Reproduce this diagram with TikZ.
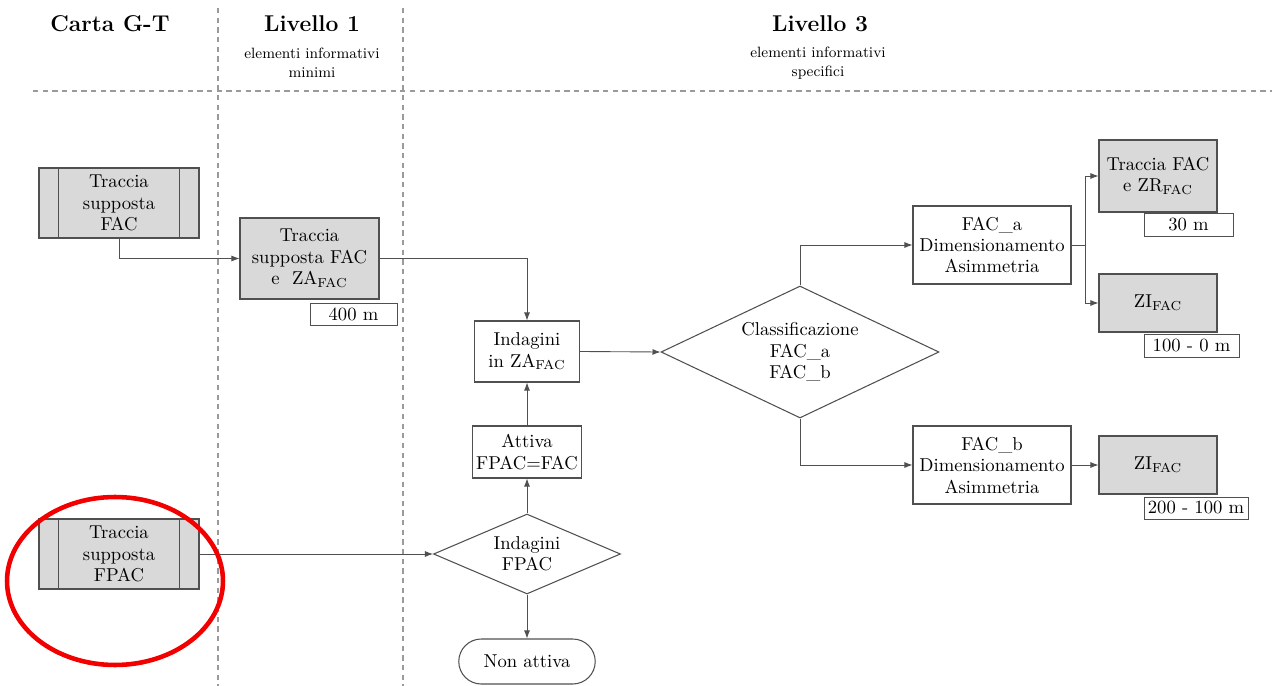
\documentclass[tikz,border=0pt]{standalone}
\usepackage{tikz}
\usetikzlibrary{arrows.meta,positioning,calc,shapes.geometric,shapes.misc}
\usepackage{xcolor}
\definecolor{gtLine}{HTML}{505050}
\definecolor{gtFill}{HTML}{D9D9D9}
\definecolor{gtDash}{HTML}{9A9A9A}
\definecolor{gtRed}{HTML}{F20000}
\newcommand{\gtbody}{\fontsize{10.6}{12.2}\selectfont}
\newcommand{\gthead}{\fontsize{13}{15}\selectfont\bfseries}
\newcommand{\gtsub}{\fontsize{8.5}{11}\selectfont}
\tikzset{
  arr/.style={-{Latex[length=1.6mm,width=1.2mm]}, line width=0.5pt, draw=gtLine},
  lnk/.style={line width=0.5pt, draw=gtLine},
  sep/.style={dash pattern=on 3pt off 2.5pt, draw=gtDash, line width=0.6pt},
  whitebox/.style={rectangle, draw=gtLine, fill=white, line width=0.6pt, align=center, inner sep=1pt, font=\gtbody},
  greybox/.style={whitebox, fill=gtFill},
  tagbox/.style={whitebox, line width=0.5pt},
  choice/.style={diamond, draw=gtLine, fill=white, line width=0.6pt, align=center, inner sep=0pt, font=\gtbody},
  endbox/.style={rounded rectangle, draw=gtLine, fill=white, line width=0.6pt, align=center, inner sep=1pt, font=\gtbody},
  head/.style={font=\gthead},
  subhead/.style={font=\gtsub, align=center}
}

\begin{document}
\begin{tikzpicture}[x=0.02cm,y=-0.02cm]
  \useasboundingbox (0,0) rectangle (1272,686);
  % columns and headings
  \draw[sep] (218,8) -- (218,686);
  \draw[sep] (403,8) -- (403,686);
  \draw[sep] (33,91) -- (1272,91);
  \node[head] (hgt) at (110,24) {Carta G-T};
  \node[head] (hl1) at (312,24) {Livello 1};
  \node[subhead] (sl1) at (312,63) {elementi informativi\\minimi};
  \node[head] (hl3) at (820,24) {Livello 3};
  \node[subhead] (sl3) at (818,63) {elementi informativi\\specifici};
  % distance tags
  \node[tagbox, minimum width=1.74cm, minimum height=0.44cm] (t400) at (353.5,314) {400 m};
  \node[tagbox, minimum width=1.78cm, minimum height=0.46cm] (t30) at (1188.5,225) {30 m};
  \node[tagbox, minimum width=1.9cm, minimum height=0.46cm] (t100) at (1191.5,345.5) {100 - 0 m};
  \node[tagbox, minimum width=2.08cm, minimum height=0.44cm] (t200) at (1196,508) {200 - 100 m};
  % boxes
  \node[greybox, minimum width=3.2cm, minimum height=1.4cm] (tsf) at (119,203) {Traccia\\supposta\\FAC};
  \node[greybox, minimum width=3.2cm, minimum height=1.4cm] (tsfp) at (119,554) {Traccia\\supposta\\FPAC};
  \draw[lnk] ([xshift=0.4cm]tsf.north west) -- ([xshift=0.4cm]tsf.south west);
  \draw[lnk] ([xshift=-0.4cm]tsf.north east) -- ([xshift=-0.4cm]tsf.south east);
  \draw[lnk] ([xshift=0.4cm]tsfp.north west) -- ([xshift=0.4cm]tsfp.south west);
  \draw[lnk] ([xshift=-0.4cm]tsfp.north east) -- ([xshift=-0.4cm]tsfp.south east);
  \node[greybox, minimum width=2.78cm, minimum height=1.62cm] (tsza) at (309.5,258.5) {Traccia\\supposta FAC\\e~~ZA\textsubscript{FAC}};
  \node[whitebox, minimum width=2.1cm, minimum height=1.22cm] (iza) at (527,351.5) {Indagini\\in ZA\textsubscript{FAC}};
  \node[whitebox, minimum width=2.18cm, minimum height=1.04cm] (att) at (527,452) {Attiva\\FPAC=FAC};
  \node[choice, aspect=2.3, minimum width=3.74cm, minimum height=1.6cm] (ifp) at (527,554) {Indagini\\FPAC};
  \node[endbox, minimum width=2.8cm, minimum height=0.9cm] (nat) at (527,661.5) {Non attiva};
  \node[choice, aspect=2.1, minimum width=5.56cm, minimum height=2.64cm] (cls) at (800,352) {Classificazione\\FAC\_a\\FAC\_b};
  \node[whitebox, minimum width=3.16cm, minimum height=1.56cm] (faca) at (992,245) {FAC\_a\\Dimensionamento\\Asimmetria};
  \node[whitebox, minimum width=3.16cm, minimum height=1.56cm] (facb) at (992,465) {FAC\_b\\Dimensionamento\\Asimmetria};
  \node[greybox, minimum width=2.36cm, minimum height=1.44cm] (tzr) at (1158,176) {Traccia FAC\\e ZR\textsubscript{FAC}};
  \node[greybox, minimum width=2.36cm, minimum height=1.16cm] (zia) at (1158,303) {ZI\textsubscript{FAC}};
  \node[greybox, minimum width=2.36cm, minimum height=1.16cm] (zib) at (1158,465) {ZI\textsubscript{FAC}};
  % connectors
  \draw[arr] (tsf.south) |- (tsza.west);
  \draw[arr] (tsza.east) -| (iza.north);
  \draw[arr] (tsfp.east) -- (ifp.west);
  \draw[arr] (ifp.north) -- (att.south);
  \draw[arr] (att.north) -- (iza.south);
  \draw[arr] (ifp.south) -- (nat.north);
  \draw[arr] (iza.east) -- (cls.west);
  \draw[arr] (cls.north) |- (faca.west);
  \draw[arr] (cls.south) |- (facb.west);
  \coordinate (fork) at (1085,245);
  \draw[lnk] (faca.east) -- (fork);
  \draw[arr] (fork) |- (tzr.west);
  \draw[arr] (fork) |- (zia.west);
  \draw[arr] (facb.east) -- (zib.west);
  % highlight
  \draw[gtRed, line width=2.6pt] (115,581) ellipse [x radius=2.16cm, y radius=1.68cm];
\end{tikzpicture}
\end{document}
